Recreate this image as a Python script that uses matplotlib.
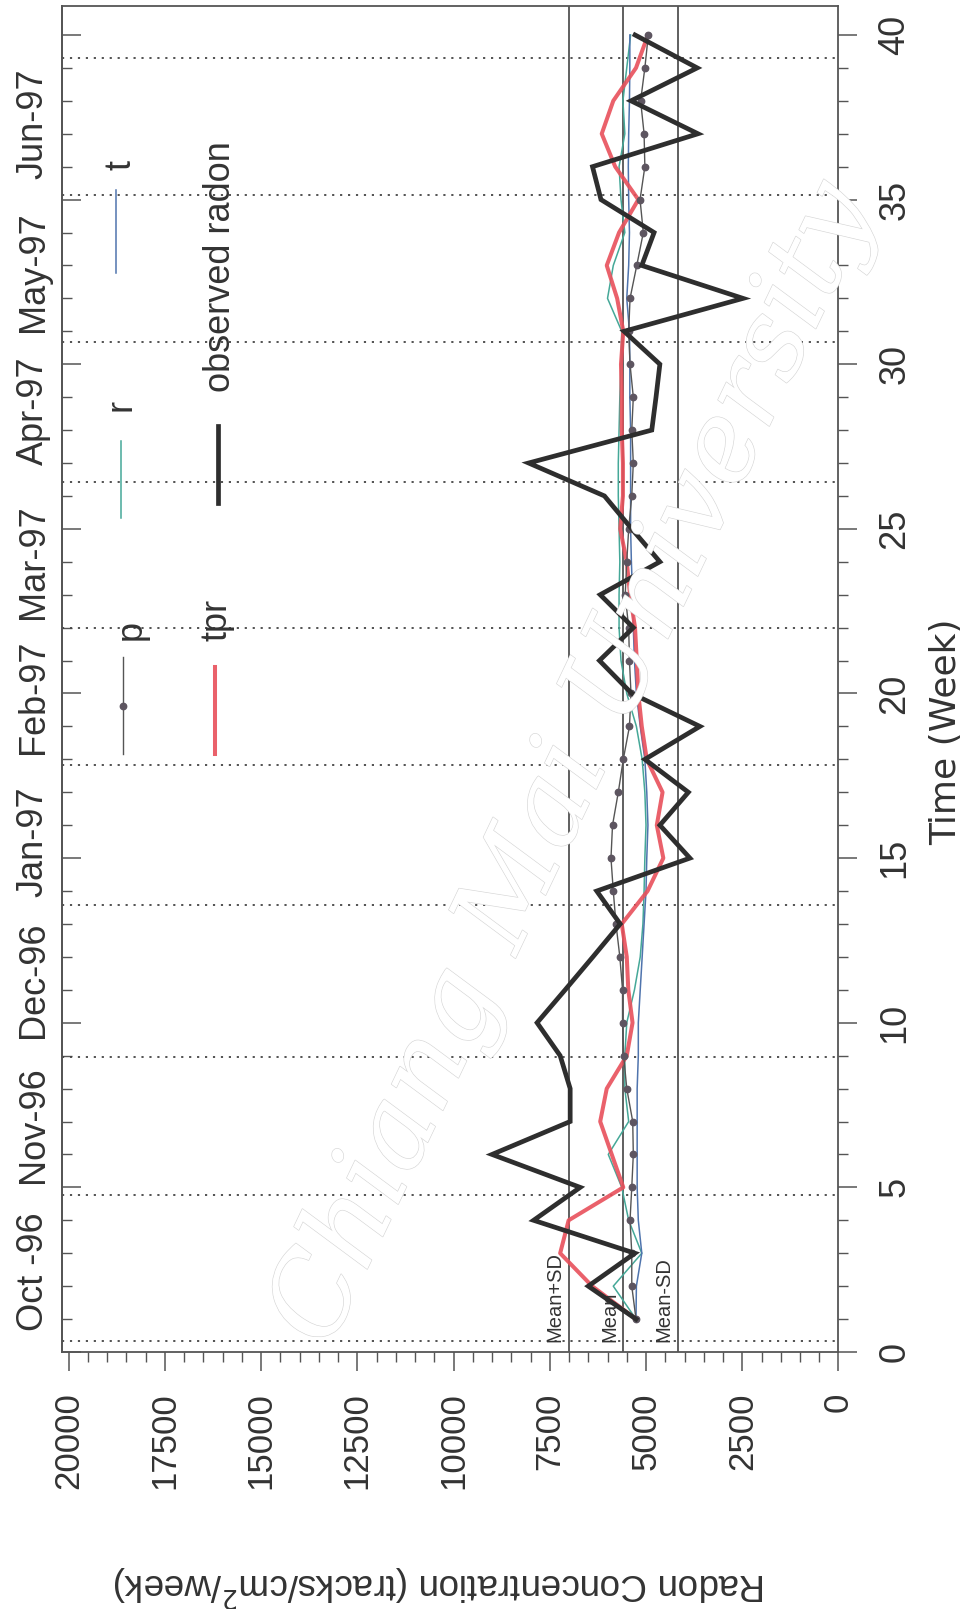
import matplotlib

matplotlib.use("Agg")
import matplotlib.pyplot as plt  # noqa: E402
from matplotlib.lines import Line2D  # noqa: E402
from matplotlib.ticker import MultipleLocator  # noqa: E402
from matplotlib.transforms import blended_transform_factory  # noqa: E402
from matplotlib import patheffects as pe  # noqa: E402

W, H = 970, 1609  # output size in pixels (dpi 100)

# Weekly radon track densities (tracks/cm^2/week), Oct 96 - Jun 97
weeks = list(range(1, 41))
observed = [5260, 6500, 5290, 7920, 6710, 9000, 6970, 6970, 7230, 7830,
            7100, 6380, 5670, 6280, 3860, 4640, 3900, 5030, 3600, 5370,
            6210, 5330, 6190, 4640, 5370, 6080, 8050, 4850, 4740, 4640,
            5570, 2480, 5110, 4790, 6170, 6390, 3650, 5390, 3670, 5285]
p_model = [5260, 5370, 5370, 5415, 5370, 5330, 5345, 5500, 5580, 5610,
           5610, 5680, 5780, 5850, 5910, 5870, 5720, 5590, 5430, 5390,
           5430, 5450, 5540, 5500, 5450, 5370, 5330, 5370, 5330, 5415,
           5450, 5415, 5240, 5070, 5155, 5030, 5050, 5140, 5030, 4940]
r_model = [5260, 5850, 5110, 5450, 5630, 5980, 5450, 5550, 5550, 5500,
           5300, 5150, 5080, 5050, 5030, 5000, 5030, 5100, 5250, 5500,
           5650, 5700, 5700, 5680, 5700, 5720, 5720, 5700, 5680, 5650,
           5630, 6000, 5850, 5550, 5650, 5700, 5550, 5600, 5500, 5400]
t_model = [5260, 5250, 5110, 5200, 5230, 5230, 5230, 5230, 5200, 5200,
           5150, 5100, 5050, 5000, 4980, 4950, 4980, 5030, 5150, 5250,
           5300, 5330, 5350, 5380, 5400, 5400, 5400, 5400, 5420, 5420,
           5430, 5500, 5450, 5430, 5450, 5460, 5450, 5430, 5420, 5420]
tpr_model = [5260, 6400, 7230, 7010, 5590, 5890, 6190, 6020, 5500, 5350,
             5460, 5500, 5630, 4960, 4550, 4720, 4570, 4980, 5110, 5200,
             5240, 5285, 5415, 5500, 5670, 5600, 5600, 5630, 5630, 5650,
             5590, 5750, 6020, 5700, 5200, 5800, 6150, 5850, 5260, 4950]

mean_level = 5590
sd_level = 1410

month_labels = ["Oct -96", "Nov-96", "Dec-96", "Jan-97", "Feb-97",
                "Mar-97", "Apr-97", "May-97", "Jun-97"]
month_centres = [2.45, 6.9, 11.3, 15.5, 19.9, 24.0, 28.6, 32.8, 37.3]
month_starts = [0.32, 4.76, 8.97, 13.58, 17.82, 22.0, 26.42, 30.67, 35.15, 39.3]

radon_ticks = list(range(0, 20001, 2500))
week_ticks = list(range(0, 41, 5))

INK = "#333333"
AXIS = "#555555"
NARROW = ["Liberation Sans Narrow", "Liberation Sans", "DejaVu Sans"]

plt.rcParams.update({
    "font.family": ["Liberation Sans", "DejaVu Sans"],
    "font.size": 26,
    "text.color": INK,
    "axes.edgecolor": AXIS,
    "axes.linewidth": 1.3,
    "xtick.color": AXIS,
    "ytick.color": AXIS,
    "xtick.labelcolor": INK,
    "ytick.labelcolor": INK,
})


def fx(px):
    return px / W


def fy(py):
    return 1 - py / H


fig = plt.figure(figsize=(W / 100, H / 100), dpi=100)
fig.patch.set_facecolor("white")
ax = fig.add_axes([fx(62), fy(1352), (838.5 - 62) / W, (1352 - 6) / H])

# the page is turned: radon runs right-to-left along x, weeks run up along y
ax.set_xlim(20170, 0)
ax.set_ylim(0, 40.88)

# month boundaries and the mean / +-SD reference levels
for m in month_starts:
    ax.axhline(m, color="#444444", lw=1.3, ls=(0, (1.2, 3.2)), zorder=1)
for level in (mean_level + sd_level, mean_level, mean_level - sd_level):
    ax.axvline(level, color="#444444", lw=1.2, zorder=1)

ref_text = [("Mean+SD", mean_level + sd_level),
            ("Mean", mean_level),
            ("Mean-SD", mean_level - sd_level)]
for label, level in ref_text:
    ax.annotate(label, xy=(level, 0.3), xytext=(-3, 0), textcoords="offset points",
                rotation=90, ha="right", va="bottom", fontsize=14.5, color=INK, zorder=6)

ax.plot(r_model, weeks, color="#45a898", lw=1.1, zorder=3)
ax.plot(t_model, weeks, color="#4f74ad", lw=1.1, zorder=3)
ax.plot(tpr_model, weeks, color="#e8505b", lw=2.9, alpha=0.9, zorder=4)
ax.plot(p_model, weeks, color="#555555", lw=1.0, marker="o", ms=4.6,
        mfc="#5d5560", mec="#5d5560", zorder=5)
ax.plot(observed, weeks, color="#2e2e2e", lw=3.4, solid_joinstyle="miter", zorder=6)

# radon axis along the bottom
ax.set_xticks(radon_ticks)
ax.xaxis.set_minor_locator(MultipleLocator(500))
ax.tick_params(axis="x", which="major", direction="out", length=14, width=1.1,
               pad=15, labelrotation=90)
ax.tick_params(axis="x", which="minor", direction="out", length=7, width=1.0)
for lbl in ax.get_xticklabels():
    lbl.set_va("top")
    lbl.set_family(NARROW)
    lbl.set_fontsize(25)

# week axis on the right, inward mirror ticks on the left
ax.yaxis.tick_right()
ax.set_yticks(week_ticks)
ax.yaxis.set_minor_locator(MultipleLocator(1))
ax.tick_params(axis="y", which="major", direction="out", length=14, width=1.1,
               pad=14, labelrotation=90)
ax.tick_params(axis="y", which="minor", direction="out", length=7, width=1.0)
for lbl in ax.get_yticklabels():
    lbl.set_va("center")

left = ax.secondary_yaxis("left")
left.set_yticks(week_ticks)
left.yaxis.set_minor_locator(MultipleLocator(1))
left.tick_params(axis="y", which="major", direction="in", length=14, width=1.1,
                 labelleft=False)
left.tick_params(axis="y", which="minor", direction="in", length=7, width=1.0)

# month names sit outside the left edge
mtrans = blended_transform_factory(ax.transAxes, ax.transData)
for name, c in zip(month_labels, month_centres):
    ax.text(-0.037, c, name, transform=mtrans, rotation=90, ha="center",
            va="center", fontsize=26, clip_on=False)

fig.text(fx(946), fy(732), "Time (Week)", rotation=90, ha="center", va="center",
         fontsize=26, family=["DejaVu Sans"])
fig.text(fx(440), fy(1586), "Radon Concentration (tracks/cm$^2$/week)", rotation=180,
         ha="center", va="center", fontsize=26.5)


def legend_entry(x, y0, y1, label, lx, ly, mark=False, **style):
    line = Line2D([fx(x)] * 3, [fy(y0), (fy(y0) + fy(y1)) / 2, fy(y1)],
                  transform=fig.transFigure, **style)
    if mark:
        line.set_marker("o")
        line.set_markevery([1])
    fig.add_artist(line)
    fig.text(fx(lx), fy(ly), label, rotation=90, ha="center", va="center",
             fontsize=26)


legend_entry(123, 754, 657, "p", 131, 630, mark=True, color="#555555", lw=1.0,
             ms=4.6, mfc="#5d5560", mec="#5d5560")
legend_entry(121, 518, 441, "r", 121, 405, color="#45a898", lw=1.1)
legend_entry(116, 273, 190, "t", 121, 165, color="#4f74ad", lw=1.1)
legend_entry(215, 754, 667, "tpr", 217, 620, color="#e8505b", lw=2.9, alpha=0.9)
legend_entry(218, 503, 426, "observed radon", 221, 267, color="#2e2e2e", lw=3.4)

# faint outlined watermark running up across the plot
fig.text(fx(575), fy(765), "Chiang Mai University", rotation=64.5, ha="center",
         va="center", fontsize=80, family="DejaVu Serif", style="italic",
         color="white", zorder=0.5,
         path_effects=[pe.withStroke(linewidth=0.9, foreground="#d6d6d6")])

fig.savefig("out.png", dpi=100, facecolor="white")
